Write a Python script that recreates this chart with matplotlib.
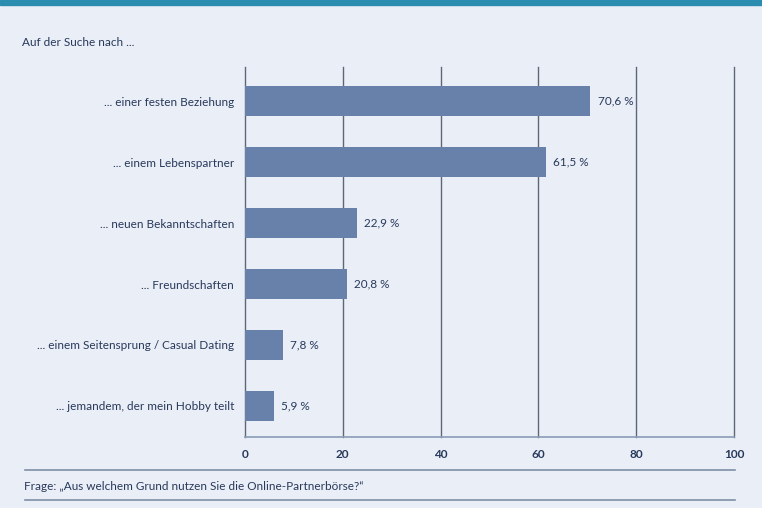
import numpy as np
import matplotlib
matplotlib.use("Agg")
import matplotlib.pyplot as plt
from matplotlib.lines import Line2D
from matplotlib.patches import Rectangle

plt.rcParams['font.family'] = ['Lato', 'DejaVu Sans']

categories = ["... einer festen Beziehung", "... einem Lebenspartner",
              "... neuen Bekanntschaften", "... Freundschaften",
              "... einem Seitensprung / Casual Dating",
              "... jemandem, der mein Hobby teilt"]
values = [70.6, 61.5, 22.9, 20.8, 7.8, 5.9]
xticks = [0, 20, 40, 60, 80, 100]

bg = "#eaeef7"
bar_color = "#6781ab"
text_color = "#27395a"
grid_color = "#5c6878"

fig = plt.figure(figsize=(7.62, 5.08), dpi=100, facecolor=bg)
ax = fig.add_axes([245/762, 1-437/508, (734-245)/762, (437-67)/508], facecolor=bg)

ypos = np.arange(len(categories))[::-1]
ax.barh(ypos, values, height=0.5, color=bar_color, zorder=3)
for y, v in zip(ypos, values):
    ax.text(v + 1.5, y, ("%.1f %%" % v).replace(".", ","), va='center', ha='left',
            fontsize=8.5, color=text_color)

ax.set_xlim(0, 100)
ax.set_ylim(-0.51, 5.56)
ax.set_xticks(xticks)
ax.set_xticklabels([str(t) for t in xticks], fontsize=8.5, color=text_color, fontweight='bold')
ax.set_yticks(ypos)
ax.set_yticklabels(categories, fontsize=8.5, color=text_color)
ax.tick_params(axis='both', length=0)
ax.tick_params(axis='x', pad=9)
ax.tick_params(axis='y', pad=8)
for t in xticks:
    ax.axvline(t, color=grid_color, lw=1, zorder=1, clip_on=False)
for s in ['top', 'right', 'left']:
    ax.spines[s].set_visible(False)
ax.spines['bottom'].set_color("#8a9cb8")
ax.spines['bottom'].set_linewidth(1.2)

# top band
fig.patches.append(Rectangle((0, 1-5/508), 1, 5/508, transform=fig.transFigure,
                             color="#2a8db0", zorder=0))

fig.text(22/762, 1-42/508, "Auf der Suche nach ...", fontsize=8.5, color=text_color,
         va='center', ha='left')

for yy in [470, 500]:
    fig.lines.append(Line2D([25/762, 735/762], [1-yy/508, 1-yy/508],
                            transform=fig.transFigure, color="#7f8ea6", lw=1.2))
fig.text(24/762, 1-487/508, "Frage: \u201eAus welchem Grund nutzen Sie die Online-Partnerbörse?\u201c",
         fontsize=8.5, color=text_color, va='center', ha='left')

fig.savefig("out.png", dpi=100, facecolor=bg)
